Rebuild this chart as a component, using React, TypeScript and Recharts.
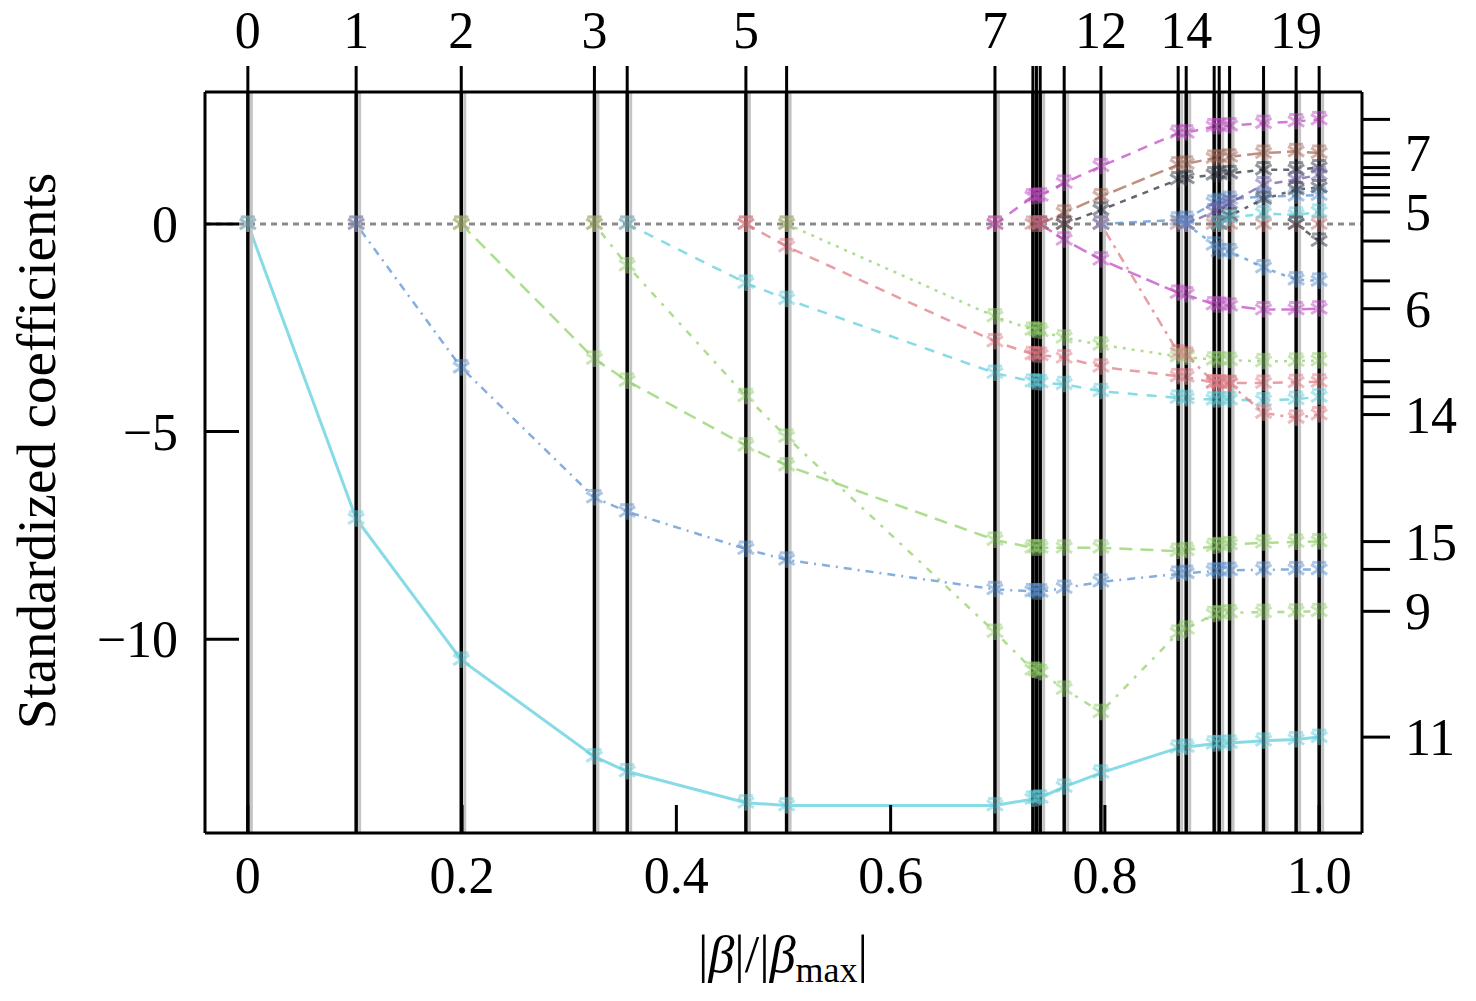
import React from "react";
import { LineChart, Line, XAxis, YAxis, ReferenceLine } from "recharts";

// |beta| / |beta_max| at every LARS step (0 .. 20)
const steps = [
  0, 0.1011, 0.1992, 0.3235, 0.3541, 0.4649, 0.5029, 0.6974, 0.7328, 0.7361, 0.7396,
  0.762, 0.7963, 0.8684, 0.8759, 0.902, 0.9067, 0.9164, 0.9481, 0.9785, 1.0,
];
const labelledSteps = [0, 1, 2, 3, 5, 7, 12, 14, 19];
const xTicks = [0, 0.2, 0.4, 0.6, 0.8, 1.0];
const yTicks = [0, -5, -10];
const labelledVars = [7, 5, 6, 14, 15, 9, 11];

// standardized coefficients, one value per step
const coef11 = [0, -7.1, -10.5, -12.83, -13.19, -13.94, -14.01, -14.01, -13.85, -13.84, -13.82, -13.56, -13.22, -12.62, -12.6, -12.52, -12.51, -12.5, -12.45, -12.42, -12.36];
const coef18 = [0, 0, -3.46, -6.59, -6.93, -7.83, -8.09, -8.8, -8.85, -8.86, -8.86, -8.77, -8.62, -8.43, -8.41, -8.36, -8.35, -8.34, -8.33, -8.32, -8.32];
const coef15 = [0, 0, 0, -3.25, -3.78, -5.34, -5.82, -7.61, -7.8, -7.8, -7.8, -7.8, -7.8, -7.88, -7.86, -7.76, -7.74, -7.72, -7.68, -7.66, -7.65];
const coef9 = [0, 0, 0, 0, -1.0, -4.15, -5.13, -9.83, -10.74, -10.76, -10.8, -11.2, -11.76, -9.85, -9.75, -9.4, -9.38, -9.36, -9.35, -9.34, -9.33];
const coef17 = [0, 0, 0, 0, 0, -1.42, -1.81, -3.59, -3.8, -3.81, -3.82, -3.86, -4.03, -4.19, -4.2, -4.23, -4.23, -4.23, -4.25, -4.22, -4.16];
const coef16 = [0, 0, 0, 0, 0, 0, -0.54, -2.83, -3.14, -3.15, -3.16, -3.22, -3.44, -3.67, -3.68, -3.83, -3.83, -3.83, -3.83, -3.81, -3.8];
const coef13 = [0, 0, 0, 0, 0, 0, 0, -2.23, -2.55, -2.56, -2.58, -2.74, -2.91, -3.19, -3.2, -3.27, -3.27, -3.28, -3.31, -3.3, -3.29];
const coef4 = [0, 0, 0, 0, 0, 0, 0, 0, 0.66, 0.67, 0.68, 0.99, 1.39, 2.19, 2.2, 2.35, 2.35, 2.37, 2.43, 2.47, 2.52];
const coef6 = [0, 0, 0, 0, 0, 0, 0, 0, 0, 0, 0, -0.38, -0.86, -1.66, -1.7, -1.94, -1.95, -1.97, -2.06, -2.06, -2.04];
const coef7 = [0, 0, 0, 0, 0, 0, 0, 0, 0, 0, 0, 0.27, 0.66, 1.43, 1.45, 1.59, 1.6, 1.62, 1.71, 1.75, 1.71];
const coef1 = [0, 0, 0, 0, 0, 0, 0, 0, 0, 0, 0, 0, 0.34, 1.07, 1.1, 1.19, 1.2, 1.22, 1.31, 1.31, 1.36];
const coef14 = [0, 0, 0, 0, 0, 0, 0, 0, 0, 0, 0, 0, 0, -3.1, -3.15, -3.82, -3.83, -3.85, -4.55, -4.67, -4.59];
const coef8 = [0, 0, 0, 0, 0, 0, 0, 0, 0, 0, 0, 0, 0, 0.1, 0.12, 0.51, 0.55, 0.6, 0.66, 0.68, 0.7];
const coef2 = [0, 0, 0, 0, 0, 0, 0, 0, 0, 0, 0, 0, 0, 0, 0, 0.3, 0.35, 0.5, 0.95, 1.07, 1.19];
const coef12 = [0, 0, 0, 0, 0, 0, 0, 0, 0, 0, 0, 0, 0, 0, 0, -0.5, -0.66, -0.66, -1.05, -1.34, -1.37];
const coef3 = [0, 0, 0, 0, 0, 0, 0, 0, 0, 0, 0, 0, 0, 0, 0, 0, 0, 0.2, 0.6, 0.83, 0.88];
const coef5 = [0, 0, 0, 0, 0, 0, 0, 0, 0, 0, 0, 0, 0, 0, 0, 0, 0, 0.15, 0.25, 0.22, 0.29];
const coef10 = [0, 0, 0, 0, 0, 0, 0, 0, 0, 0, 0, 0, 0, 0, 0, 0, 0, 0, 0, 0, -0.41];

const CYAN = "#5fcfdd";
const BLUE = "#5a93d4";
const GREEN = "#92d16a";
const PINK = "#e27c86";
const MAGENTA = "#c24cc6";
const BROWN = "#a86a58";
const DARK = "#2e3440";
const PURPLE = "#6f5fa6";

const series = [
  { id: 11, values: coef11, color: CYAN, dash: undefined, width: 3 },
  { id: 18, values: coef18, color: BLUE, dash: "2 6 8 6" },
  { id: 15, values: coef15, color: GREEN, dash: "13 8" },
  { id: 9, values: coef9, color: GREEN, dash: "3 8 7 8" },
  { id: 17, values: coef17, color: CYAN, dash: "10 9" },
  { id: 16, values: coef16, color: PINK, dash: "10 8" },
  { id: 13, values: coef13, color: GREEN, dash: "3 6" },
  { id: 4, values: coef4, color: MAGENTA, dash: "10 8" },
  { id: 6, values: coef6, color: MAGENTA, dash: "14 6" },
  { id: 7, values: coef7, color: BROWN, dash: "14 6" },
  { id: 1, values: coef1, color: DARK, dash: "6 6" },
  { id: 14, values: coef14, color: PINK, dash: "3 6 10 6" },
  { id: 8, values: coef8, color: BLUE, dash: "8 6" },
  { id: 2, values: coef2, color: PURPLE, dash: "8 6" },
  { id: 12, values: coef12, color: BLUE, dash: "4 6" },
  { id: 3, values: coef3, color: DARK, dash: "4 6" },
  { id: 5, values: coef5, color: CYAN, dash: "8 6" },
  { id: 10, values: coef10, color: DARK, dash: "6 6" },
];

const finals = series.map((s) => s.values[s.values.length - 1]);

// a variable is drawn from the step where it enters (last zero before it moves)
const entryIndex = (v: number[]) => {
  const first = v.findIndex((c) => c !== 0);
  return first <= 0 ? 0 : first - 1;
};

const data = steps.map((x, i) => {
  const row: Record<string, number | null> = { x, zero: 0 };
  series.forEach((s) => {
    row[`v${s.id}`] = i >= entryIndex(s.values) ? s.values[i] : null;
  });
  return row;
});

const FONT = "'Liberation Serif', 'Times New Roman', serif";
const TICK = 28;

const star = (color: string) => (p: any) => {
  const key = `${p.dataKey}-${p.index}`;
  if (p.cx == null || p.cy == null || p.value == null) return <g key={key} />;
  const r = 8;
  return (
    <g key={key} stroke={color} strokeWidth={3} opacity={0.5}>
      <line x1={p.cx} y1={p.cy - r} x2={p.cx} y2={p.cy + r} />
      <line x1={p.cx - r} y1={p.cy - 5} x2={p.cx + r} y2={p.cy + 5} />
      <line x1={p.cx - r} y1={p.cy + 5} x2={p.cx + r} y2={p.cy - 5} />
      <line x1={p.cx - r + 1} y1={p.cy - r + 1} x2={p.cx + r - 1} y2={p.cy - r + 1} />
    </g>
  );
};

const BottomTick = (p: any) => {
  const v = p.payload.value;
  return (
    <g>
      <line x1={p.x} y1={p.y} x2={p.x} y2={p.y - TICK} stroke="#000" strokeWidth={3} />
      <text x={p.x} y={p.y + 60} textAnchor="middle" fontSize={52} fontFamily={FONT} fill="#000">
        {v === 0 ? "0" : v.toFixed(1)}
      </text>
    </g>
  );
};

const TopTick = (p: any) => {
  const idx = steps.indexOf(p.payload.value);
  return (
    <g>
      <line x1={p.x} y1={p.y} x2={p.x} y2={p.y - 26} stroke="#000" strokeWidth={3} />
      {labelledSteps.includes(idx) && (
        <text x={p.x} y={48} textAnchor="middle" fontSize={52} fontFamily={FONT} fill="#000">
          {idx}
        </text>
      )}
    </g>
  );
};

const LeftTick = (p: any) => {
  const v = p.payload.value;
  return (
    <g>
      <line x1={p.x} y1={p.y} x2={p.x + 34} y2={p.y} stroke="#000" strokeWidth={3} />
      <text x={178} y={p.y + 18} textAnchor="end" fontSize={52} fontFamily={FONT} fill="#000">
        {v < 0 ? `\u2212${Math.abs(v)}` : `${v}`}
      </text>
    </g>
  );
};

const RightTick = (p: any) => {
  const i = finals.findIndex((f) => Math.abs(f - p.payload.value) < 1e-6);
  const id = i >= 0 ? series[i].id : -1;
  return (
    <g>
      <line x1={p.x} y1={p.y} x2={p.x + TICK} y2={p.y} stroke="#000" strokeWidth={3} />
      {labelledVars.includes(id) && (
        <text x={1405} y={p.y + 18} textAnchor="start" fontSize={52} fontFamily={FONT} fill="#000">
          {id}
        </text>
      )}
    </g>
  );
};

const stepLine = (p: any) => (
  <g>
    <line x1={p.x1 + 3.5} y1={p.y1} x2={p.x2 + 3.5} y2={p.y2} stroke="#c4c4c4" strokeWidth={3} />
    <line x1={p.x1} y1={p.y1} x2={p.x2} y2={p.y2} stroke="#000" strokeWidth={3.5} />
  </g>
);

const frame = { stroke: "#000", strokeWidth: 3 };
const xDomain: [number, number] = [-0.04, 1.04];
const yDomain: [number, number] = [-14.67, 3.18];

export default function App() {
  return (
    <div style={{ position: "absolute", left: 0, top: 0, width: 1476, height: 1001, background: "#fff" }}>
      <LineChart width={1476} height={1001} data={data} margin={{ top: 0, right: 0, bottom: 0, left: 0 }}>
        <XAxis
          xAxisId="b"
          dataKey="x"
          type="number"
          domain={xDomain}
          allowDataOverflow
          ticks={xTicks}
          interval={0}
          height={168}
          tickSize={0}
          tickMargin={0}
          tickLine={false}
          axisLine={frame}
          tick={BottomTick}
        />
        <XAxis
          xAxisId="t"
          orientation="top"
          dataKey="x"
          type="number"
          domain={xDomain}
          allowDataOverflow
          ticks={steps}
          interval={0}
          height={92}
          tickSize={0}
          tickMargin={0}
          tickLine={false}
          axisLine={frame}
          tick={TopTick}
        />
        <YAxis
          yAxisId="l"
          type="number"
          domain={yDomain}
          allowDataOverflow
          ticks={yTicks}
          interval={0}
          width={205}
          tickSize={0}
          tickMargin={0}
          tickLine={false}
          axisLine={frame}
          tick={LeftTick}
        />
        <YAxis
          yAxisId="r"
          orientation="right"
          type="number"
          domain={yDomain}
          allowDataOverflow
          ticks={finals}
          interval={0}
          width={114}
          tickSize={0}
          tickMargin={0}
          tickLine={false}
          axisLine={frame}
          tick={RightTick}
        />
        <ReferenceLine xAxisId="b" yAxisId="l" y={0} stroke="#8a8a8a" strokeWidth={3} strokeDasharray="6 5" />
        <Line
          xAxisId="b"
          yAxisId="l"
          dataKey="zero"
          stroke="none"
          dot={star("#c27272")}
          activeDot={false}
          isAnimationActive={false}
        />
        {series.map((s) => (
          <Line
            key={s.id}
            xAxisId="b"
            yAxisId="l"
            type="linear"
            dataKey={`v${s.id}`}
            stroke={s.color}
            strokeWidth={s.width ?? 2.5}
            strokeDasharray={s.dash}
            strokeOpacity={0.75}
            dot={star(s.color)}
            activeDot={false}
            connectNulls={false}
            isAnimationActive={false}
          />
        ))}
        {steps.map((x) => (
          <ReferenceLine key={x} xAxisId="b" yAxisId="l" x={x} shape={stepLine} />
        ))}
      </LineChart>
      <svg
        width={1476}
        height={1001}
        style={{ position: "absolute", left: 0, top: 0, pointerEvents: "none" }}
      >
        <text
          transform="translate(55,451) rotate(-90)"
          textAnchor="middle"
          fontSize={55}
          fontFamily={FONT}
          fill="#000"
        >
          Standardized coefficients
        </text>
        <text x={783} y={972} textAnchor="middle" fontSize={52} fontFamily={FONT} fill="#000">
          |<tspan fontStyle="italic">β</tspan>|/|<tspan fontStyle="italic">β</tspan>
          <tspan fontSize={36} dy={10}>max</tspan>
          <tspan dy={-10}>|</tspan>
        </text>
      </svg>
    </div>
  );
}
